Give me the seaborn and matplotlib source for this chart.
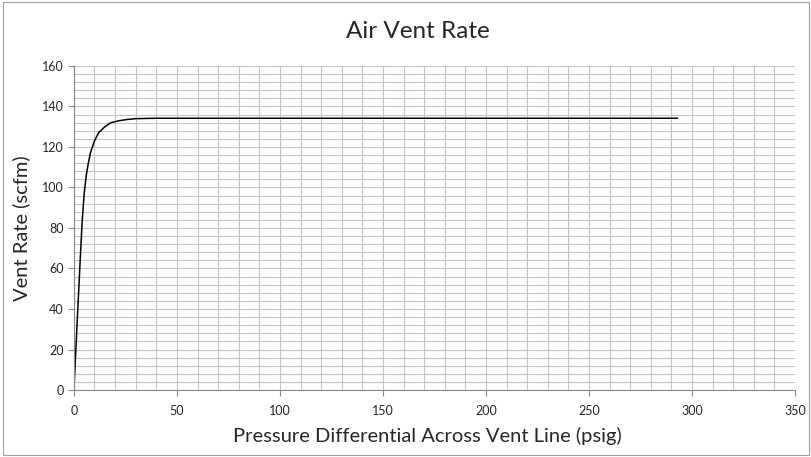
import numpy as np
import pandas as pd
import seaborn as sns
import matplotlib.pyplot as plt
from matplotlib.ticker import MultipleLocator
from matplotlib.patches import Rectangle

# Curve
pressure = [0, 1, 2, 3, 4, 5, 6, 7, 8, 10, 12, 15, 18, 22, 26, 30, 40, 293]
vent_rate = [0, 21, 42, 63, 83, 97, 106, 112, 117, 123, 127, 130, 132, 133, 133.6, 134, 134.2, 134.2]

df = pd.DataFrame({'Pressure': pressure, 'Vent Rate': vent_rate})

sns.set_style('white')
plt.rcParams['font.family'] = ['Lato', 'DejaVu Sans']

fig = plt.figure(figsize=(8.12, 4.57), dpi=100)
ax = fig.add_axes([0.091, 0.1466, 0.888, 0.709])

sns.lineplot(x='Pressure', y='Vent Rate', data=df, color='black', linewidth=1.1, ax=ax)

ax.set_xlim(0, 350)
ax.set_ylim(0, 160)
ax.xaxis.set_major_locator(MultipleLocator(50))
ax.xaxis.set_minor_locator(MultipleLocator(10))
ax.yaxis.set_major_locator(MultipleLocator(20))
ax.yaxis.set_minor_locator(MultipleLocator(4))
ax.grid(True, which='both', color='#c4c4c4', linewidth=0.8)
ax.set_axisbelow(True)

for side in ['top', 'right']:
    ax.spines[side].set_visible(False)
for side in ['left', 'bottom']:
    ax.spines[side].set_color('#868686')
    ax.spines[side].set_linewidth(0.8)

ax.tick_params(which='major', direction='out', length=4, color='#868686',
               labelsize=9, bottom=True, left=True)
ax.tick_params(which='minor', length=0)
ax.tick_params(axis='x', pad=7)

fig.text(0.515, 0.93, 'Air Vent Rate', fontsize=17.5, ha='center', va='center')
ax.set_xlabel('Pressure Differential Across Vent Line (psig)', fontsize=14.5, labelpad=7)
ax.xaxis.label.set_x(0.49)
ax.set_ylabel('Vent Rate (scfm)', fontsize=14.5, labelpad=8)

# outer chart border
fig.patches.append(Rectangle((0.004, 0.004), 0.992, 0.992, transform=fig.transFigure,
                             fill=False, edgecolor='#a0a0a0', linewidth=0.8))

plt.savefig('out.png', dpi=100)
